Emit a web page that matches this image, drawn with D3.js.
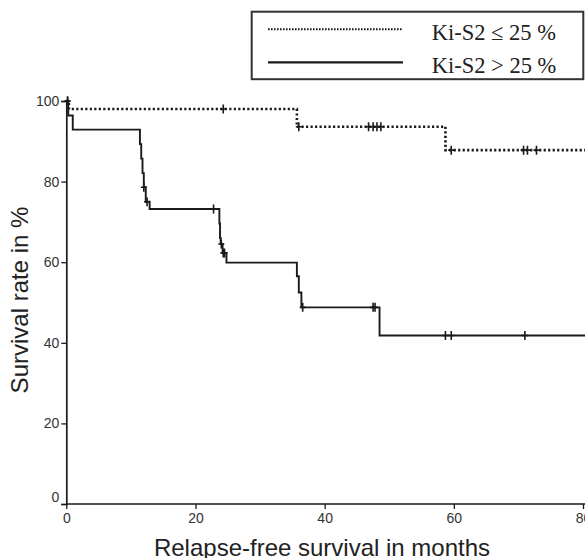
<!DOCTYPE html>
<html>
<head>
<meta charset="utf-8">
<script src="https://cdn.jsdelivr.net/npm/d3@7"></script>
<style>
  body { margin: 0; background: #fff; }
  svg { display: block; }
</style>
</head>
<body>
<svg id="chart" width="585" height="558"></svg>
<script>
// Kaplan-Meier steps: [months, survival %]
const lowSteps = [[0, 100], [0.4, 98], [35.7, 93.6], [58.7, 87.8], [81, 87.8]];
const lowCensored = [[0.2, 100], [24.3, 98], [36.0, 93.6], [46.8, 93.6], [47.5, 93.6], [48.1, 93.6], [48.7, 93.6],
  [59.6, 87.8], [70.8, 87.8], [71.4, 87.8], [72.8, 87.8]];

const highSteps = [[0, 100], [0.3, 96.4], [1.0, 92.9], [11.4, 89.3], [11.6, 85.7], [11.8, 82.1], [12.0, 78.6],
  [12.3, 75.0], [12.9, 73.2], [23.7, 69.6], [23.8, 66.0], [23.9, 64.5], [24.2, 62.3], [24.8, 59.9],
  [35.7, 56.5], [36.0, 52.5], [36.4, 48.8], [48.5, 41.8], [81, 41.8]];
const highCensored = [[0.2, 100], [12.0, 78.6], [12.5, 75.0], [22.8, 73.2], [24.0, 64.5], [24.3, 62.3], [24.5, 62.3],
  [36.6, 48.8], [47.5, 48.8], [47.8, 48.8], [58.7, 41.8], [59.6, 41.8], [71.0, 41.8]];

const xTicks = [0, 20, 40, 60, 80];
const yTicks = [0, 20, 40, 60, 80, 100];
const legendLabels = ["Ki-S2 \u2264 25 %", "Ki-S2 > 25 %"];

const svg = d3.select("#chart");
const ink = "#1a1a1a";
const sans = "Liberation Sans, Arial, sans-serif";

const x = d3.scaleLinear().domain([0, 80]).range([66.3, 583]);
const y = d3.scaleLinear().domain([0, 100]).range([504, 101]);

// axes
const xAxis = svg.append("g").attr("transform", `translate(0,${y(0)})`)
  .call(d3.axisBottom(x).tickValues(xTicks).tickSize(5).tickPadding(4));
xAxis.select(".domain").attr("d", `M${x(0)},0H585`);

const yAxis = svg.append("g").attr("transform", `translate(${x(0)},0)`)
  .call(d3.axisLeft(y).tickValues(yTicks).tickSize(5).tickPadding(2));

[xAxis, yAxis].forEach(a => {
  a.select(".domain").attr("stroke", ink).attr("stroke-width", 1.7);
  a.selectAll(".tick line").attr("stroke", ink).attr("stroke-width", 1.3);
  a.selectAll(".tick text").attr("fill", "#333")
    .style("font-family", sans).style("font-size", "14px");
});
// zero label on the y axis sits a bit above the origin
yAxis.selectAll(".tick").filter(d => d === 0).select("text").attr("dy", "-0.2em");

// curves
const line = d3.line().x(d => x(d[0])).y(d => y(d[1])).curve(d3.curveStepAfter);

svg.append("path").datum(lowSteps).attr("d", line)
  .attr("fill", "none").attr("stroke", ink).attr("stroke-width", 2.6)
  .attr("stroke-dasharray", "2.2,2.3");

svg.append("path").datum(highSteps).attr("d", line)
  .attr("fill", "none").attr("stroke", ink).attr("stroke-width", 1.9);

const cross = "M-3,0H3M0,-4.5V4.5";
svg.append("g").selectAll("path").data(lowCensored.concat(highCensored)).join("path")
  .attr("transform", d => `translate(${x(d[0])},${y(d[1])})`)
  .attr("d", cross).attr("stroke", ink).attr("stroke-width", 1.6).attr("fill", "none");

// axis titles
svg.append("text").attr("x", 322).attr("y", 556).attr("text-anchor", "middle")
  .style("font-family", sans).style("font-size", "24px")
  .attr("fill", "#222").text("Relapse-free survival in months");

svg.append("text").attr("transform", "translate(28,300) rotate(-90)").attr("text-anchor", "middle")
  .style("font-family", sans).style("font-size", "24px")
  .attr("fill", "#222").text("Survival rate in %");

// legend
const legend = svg.append("g");
legend.append("rect").attr("x", 251.7).attr("y", 11.7).attr("width", 331.6).attr("height", 67.5)
  .attr("fill", "#fff").attr("stroke", "#333").attr("stroke-width", 2);

const legendRows = [
  { label: legendLabels[0], dash: "1.6,1.4", width: 2, ly: 29.3, ty: 40 },
  { label: legendLabels[1], dash: null, width: 2.2, ly: 62.3, ty: 73 }
];
legendRows.forEach(r => {
  legend.append("line").attr("x1", 268).attr("x2", 403).attr("y1", r.ly).attr("y2", r.ly)
    .attr("stroke", ink).attr("stroke-width", r.width).attr("stroke-dasharray", r.dash);
  legend.append("text").attr("x", 431.7).attr("y", r.ty)
    .style("font-family", "Liberation Serif, Times New Roman, serif").style("font-size", "22.5px")
    .attr("fill", "#222").text(r.label);
});
</script>
</body>
</html>
